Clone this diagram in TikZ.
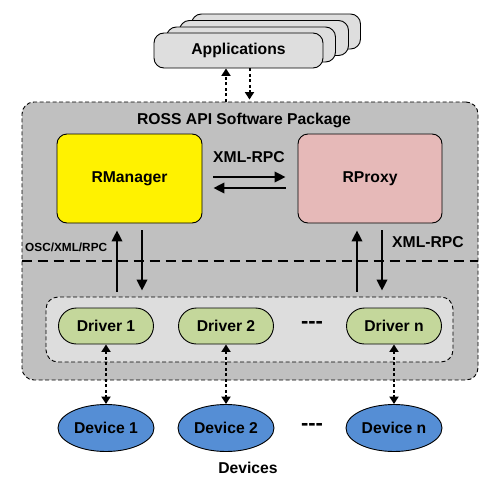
\documentclass[tikz,border=0pt]{standalone}
\usepackage{fontspec}
\setmainfont{Liberation Sans}
\usetikzlibrary{positioning, arrows.meta, shapes.geometric}

\definecolor{pkggray}{HTML}{C0C0C0}
\definecolor{drvgray}{HTML}{DDDDDD}
\definecolor{appgray}{HTML}{DEDEDE}
\definecolor{proxypink}{HTML}{E6B9B8}
\definecolor{drvgreen}{HTML}{C4D79B}
\definecolor{devblue}{HTML}{558ED5}

\begin{document}
\begin{tikzpicture}[
    x=1pt, y=-1pt,
    lbl/.style={font=\bfseries\fontsize{15.7}{18}\selectfont, inner sep=0pt},
    dots/.style={font=\bfseries\fontsize{22}{24}\selectfont, inner sep=0pt},
    appbox/.style={draw, line width=0.9pt, rounded corners=10pt, fill=appgray, minimum width=169pt, minimum height=35pt, lbl},
    cbox/.style={draw, line width=0.9pt, rounded corners=10pt, minimum width=145pt, minimum height=89pt, lbl},
    drvbox/.style={draw, line width=0.9pt, rounded corners=18pt, fill=drvgreen, minimum width=95pt, minimum height=36pt, lbl},
    devnode/.style={draw, line width=0.9pt, ellipse, fill=devblue, minimum width=96pt, minimum height=47pt, inner sep=0pt, font=\bfseries\fontsize{15.7}{18}\selectfont},
    solidarrow/.style={line width=2.2pt, -{Triangle[length=11pt, width=10.5pt]}},
    dottip/.tip={Triangle[length=7.5pt, width=9pt]},
    dotarrow/.style={line width=2pt, dash pattern=on 3pt off 2.5pt, -dottip}
]
\useasboundingbox (0,0) rectangle (499,485);

% application stack
\node[appbox] (appsback3) at (276, 31.5) {};
\node[appbox] (appsback2) at (264, 38) {};
\node[appbox] (appsback1) at (251, 44.5) {};
\node[appbox] (apps) at (238.5, 50.5) {Applications};

% software package
\node[draw, line width=0.9pt, dash pattern=on 4pt off 2.5pt, rounded corners=12pt, fill=pkggray, minimum width=456pt, minimum height=278pt] (ross) at (250, 241) {};
\node[lbl] (rosstitle) at (244, 120) {ROSS API Software Package};

\node[cbox, fill=yellow] (rmanager) at (129.5, 178.5) {RManager};
\node[cbox, fill=proxypink, minimum width=144pt] (rproxy) at (370, 178.5) {RProxy};
\node[lbl] (xmltop) at (249, 157) {XML-RPC};

\coordinate (sep) at (250, 261);
\draw[line width=1.3pt, dash pattern=on 10pt off 6pt] (ross.west |- sep) -- (ross.east |- sep);
\node[anchor=west, inner sep=0pt, font=\bfseries\fontsize{11.8}{14}\selectfont] (osc) at (25, 247) {OSC/XML/RPC};
\node[lbl] (xmlright) at (428, 242) {XML-RPC};

% drivers
\node[draw, line width=0.9pt, dash pattern=on 4pt off 2.5pt, rounded corners=12pt, fill=drvgray, minimum width=407pt, minimum height=65pt] (drivers) at (249.5, 329.5) {};
\node[drvbox] (drvone) at (106, 326) {Driver 1};
\node[drvbox] (drvtwo) at (226, 326) {Driver 2};
\node[dots] (drvdots) at (312, 325) {-{}-{}-};
\node[drvbox] (drvn) at (394, 326) {Driver n};

% devices
\node[devnode] (devone) at (106, 428) {Device 1};
\node[devnode] (devtwo) at (226, 428) {Device 2};
\node[dots] (devdots) at (312, 427) {-{}-{}-};
\node[devnode] (devn) at (394, 428) {Device n};
\node[lbl] (devlabel) at (248, 468) {Devices};

% connections
\draw[dotarrow] ([xshift=-12.5pt]apps.south |- ross.north) -- ([xshift=-12.5pt]apps.south);
\draw[dotarrow, shorten >=2pt] ([xshift=11pt]apps.south) -- ([xshift=11pt]apps.south |- ross.north);

\draw[solidarrow, shorten <=11pt, shorten >=12pt] ([yshift=1.5pt]rmanager.east) -- ([yshift=1.5pt]rmanager.east -| rproxy.west);
\draw[solidarrow, shorten <=12pt, shorten >=11pt] ([yshift=-9.5pt]rproxy.west) -- ([yshift=-9.5pt]rproxy.west -| rmanager.east);

\draw[solidarrow, shorten <=5pt, shorten >=7pt] ([xshift=-12.5pt]rmanager.south |- drivers.north) -- ([xshift=-12.5pt]rmanager.south);
\draw[solidarrow, shorten <=7pt, shorten >=6pt] ([xshift=12.5pt]rmanager.south) -- ([xshift=12.5pt]rmanager.south |- drivers.north);
\draw[solidarrow, shorten <=5pt, shorten >=7pt] ([xshift=-13pt]rproxy.south |- drivers.north) -- ([xshift=-13pt]rproxy.south);
\draw[solidarrow, shorten <=7pt, shorten >=6pt] ([xshift=12pt]rproxy.south) -- ([xshift=12pt]rproxy.south |- drivers.north);

\draw[dotarrow, dottip-dottip] (drvone.south) -- (devone.north);
\draw[dotarrow, dottip-dottip] (drvtwo.south) -- (devtwo.north);
\draw[dotarrow, dottip-dottip] (drvn.south) -- (devn.north);
\end{tikzpicture}
\end{document}
